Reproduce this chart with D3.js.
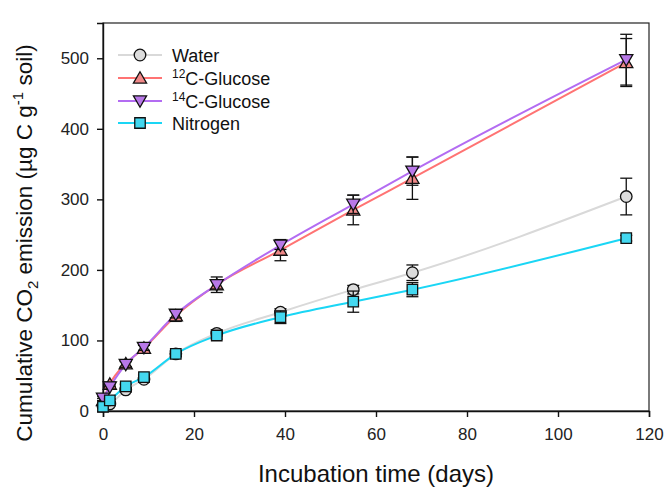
<!DOCTYPE html>
<html>
<head>
<meta charset="utf-8">
<script src="https://cdn.jsdelivr.net/npm/d3@7"></script>
<style>
  body { margin: 0; background: #fff; }
  svg { font-family: "Liberation Sans", Arial, sans-serif; }
</style>
</head>
<body>
<svg id="chart" width="666" height="490"></svg>
<script>
// incubation days and cumulative CO2 (ug C / g soil), mean and error
const days = [0, 1.5, 5, 9, 16, 25, 39, 55, 68, 115]

const water = [7, 10, 30, 45, 81, 110, 140, 172, 196, 304]
const waterErr = [2, 2, 3, 3, 4, 5, 5, 6, 11, 26]
const glc12 = [15, 38, 67, 89, 135, 179, 228, 285, 330, 494]
const glc12Err = [3, 3, 4, 4, 8, 11, 15, 21, 30, 34]
const glc14 = [18, 34, 66, 90, 137, 179, 235, 293, 340, 498]
const glc14Err = [3, 3, 4, 4, 5, 6, 6, 13, 20, 36]
const nitrogen = [6, 15, 35, 48, 81, 107, 133, 155, 172, 245]
const nitrogenErr = [2, 2, 3, 3, 4, 5, 9, 15, 10, 4]

const xTicks = [0, 20, 40, 60, 80, 100, 120]
const yTicks = [0, 100, 200, 300, 400, 500]

let series = [
  { name: "Water", sup: "", vals: water, err: waterErr, line: "#d9d9d9", fill: "#dcdcdc", shape: "circle" },
  { name: "C-Glucose", sup: "12", vals: glc12, err: glc12Err, line: "#ff7373", fill: "#f08888", shape: "up" },
  { name: "C-Glucose", sup: "14", vals: glc14, err: glc14Err, line: "#b36cf2", fill: "#b878e8", shape: "down" },
  { name: "Nitrogen", sup: "", vals: nitrogen, err: nitrogenErr, line: "#1ad6f5", fill: "#44d8f0", shape: "square" },
]

let svg = d3.select("#chart")
let mLeft = 103, mRight = 649, mTop = 23, mBottom = 411

let x = d3.scaleLinear().domain([0, 120]).range([mLeft, mRight])
let y = d3.scaleLinear().domain([0, 550]).range([mBottom, mTop])

// frame
svg.append("rect")
  .attr("x", mLeft).attr("y", mTop)
  .attr("width", mRight - mLeft).attr("height", mBottom - mTop)
  .attr("fill", "none").attr("stroke", "#222").attr("stroke-width", 1.2)

let xAxis = svg.append("g")
  .attr("transform", `translate(0,${mBottom})`)
  .call(d3.axisBottom(x).tickValues(xTicks).tickSize(6).tickPadding(11).tickFormat(d3.format("d")))
let yAxis = svg.append("g")
  .attr("transform", `translate(${mLeft},0)`)
  .call(d3.axisLeft(y).tickValues(yTicks).tickSize(6).tickPadding(8).tickFormat(d3.format("d")))

for (let ax of [xAxis, yAxis]) {
  ax.select(".domain").attr("stroke", "#111").attr("stroke-width", 1.4)
  ax.selectAll(".tick line").attr("stroke", "#111").attr("stroke-width", 1.4)
  ax.selectAll(".tick text").attr("fill", "#222").style("font-size", "17px")
    .style("font-family", "'Liberation Sans', Arial, sans-serif")
}

// axis titles
svg.append("text")
  .attr("x", (mLeft + mRight) / 2).attr("y", 482)
  .attr("text-anchor", "middle")
  .style("font-size", "24px").attr("fill", "#111")
  .text("Incubation time (days)")

let yt = svg.append("text")
  .attr("transform", `translate(32,243) rotate(-90)`)
  .attr("text-anchor", "middle")
  .style("font-size", "22.5px").attr("fill", "#111")
yt.append("tspan").text("Cumulative CO")
yt.append("tspan").attr("dy", 6).style("font-size", "15px").text("2")
yt.append("tspan").attr("dy", -6).text(" emission (µg C g")
yt.append("tspan").attr("dy", -9).style("font-size", "15px").text("-1")
yt.append("tspan").attr("dy", 9).text(" soil)")

let line = d3.line()
  .x((d, i) => x(days[i]))
  .y(d => y(d))
  .curve(d3.curveMonotoneX)

let symbolFor = {
  circle: d3.symbol().type(d3.symbolCircle).size(105),
  square: d3.symbol().type(d3.symbolSquare).size(110),
  up: d3.symbol().type(d3.symbolTriangle).size(75),
  down: d3.symbol().type(d3.symbolTriangle).size(75),
}

function drawMarker(g, s, cx, cy) {
  let p = g.append("path")
    .attr("d", symbolFor[s.shape]())
    .attr("fill", s.fill)
    .attr("stroke", "#111")
    .attr("stroke-width", 1.3)
  let tr = `translate(${cx},${cy})`
  if (s.shape === "up") tr += " translate(0,1.3)"
  if (s.shape === "down") tr += " translate(0,-1.3) rotate(180)"
  p.attr("transform", tr)
}

// lines
series.forEach(s => {
  svg.append("path")
    .datum(s.vals)
    .attr("d", line)
    .attr("fill", "none")
    .attr("stroke", s.line)
    .attr("stroke-width", 2)
})

// error bars and markers
series.forEach(s => {
  let g = svg.append("g")
  s.vals.forEach((v, i) => {
    let cx = x(days[i])
    let y0 = y(v - s.err[i]), y1 = y(v + s.err[i])
    g.append("line").attr("x1", cx).attr("x2", cx).attr("y1", y0).attr("y2", y1)
      .attr("stroke", "#111").attr("stroke-width", 1.3)
    for (let yy of [y0, y1]) {
      g.append("line").attr("x1", cx - 6).attr("x2", cx + 6).attr("y1", yy).attr("y2", yy)
        .attr("stroke", "#111").attr("stroke-width", 1.3)
    }
  })
  s.vals.forEach((v, i) => drawMarker(g, s, x(days[i]), y(v)))
})

// legend
let legend = svg.append("g")
let rowY = [55, 78, 101, 123]
series.forEach((s, i) => {
  let ly = rowY[i]
  legend.append("line").attr("x1", 118).attr("x2", 162).attr("y1", ly).attr("y2", ly)
    .attr("stroke", s.line).attr("stroke-width", 2)
  drawMarker(legend, s, 140, ly)
  let t = legend.append("text").attr("x", 172).attr("y", ly + 6.5)
    .style("font-size", "18px").attr("fill", "#111")
  if (s.sup) {
    t.append("tspan").attr("dy", -7).style("font-size", "12px").text(s.sup)
    t.append("tspan").attr("dy", 7).text(s.name)
  } else {
    t.text(s.name)
  }
})
</script>
</body>
</html>
